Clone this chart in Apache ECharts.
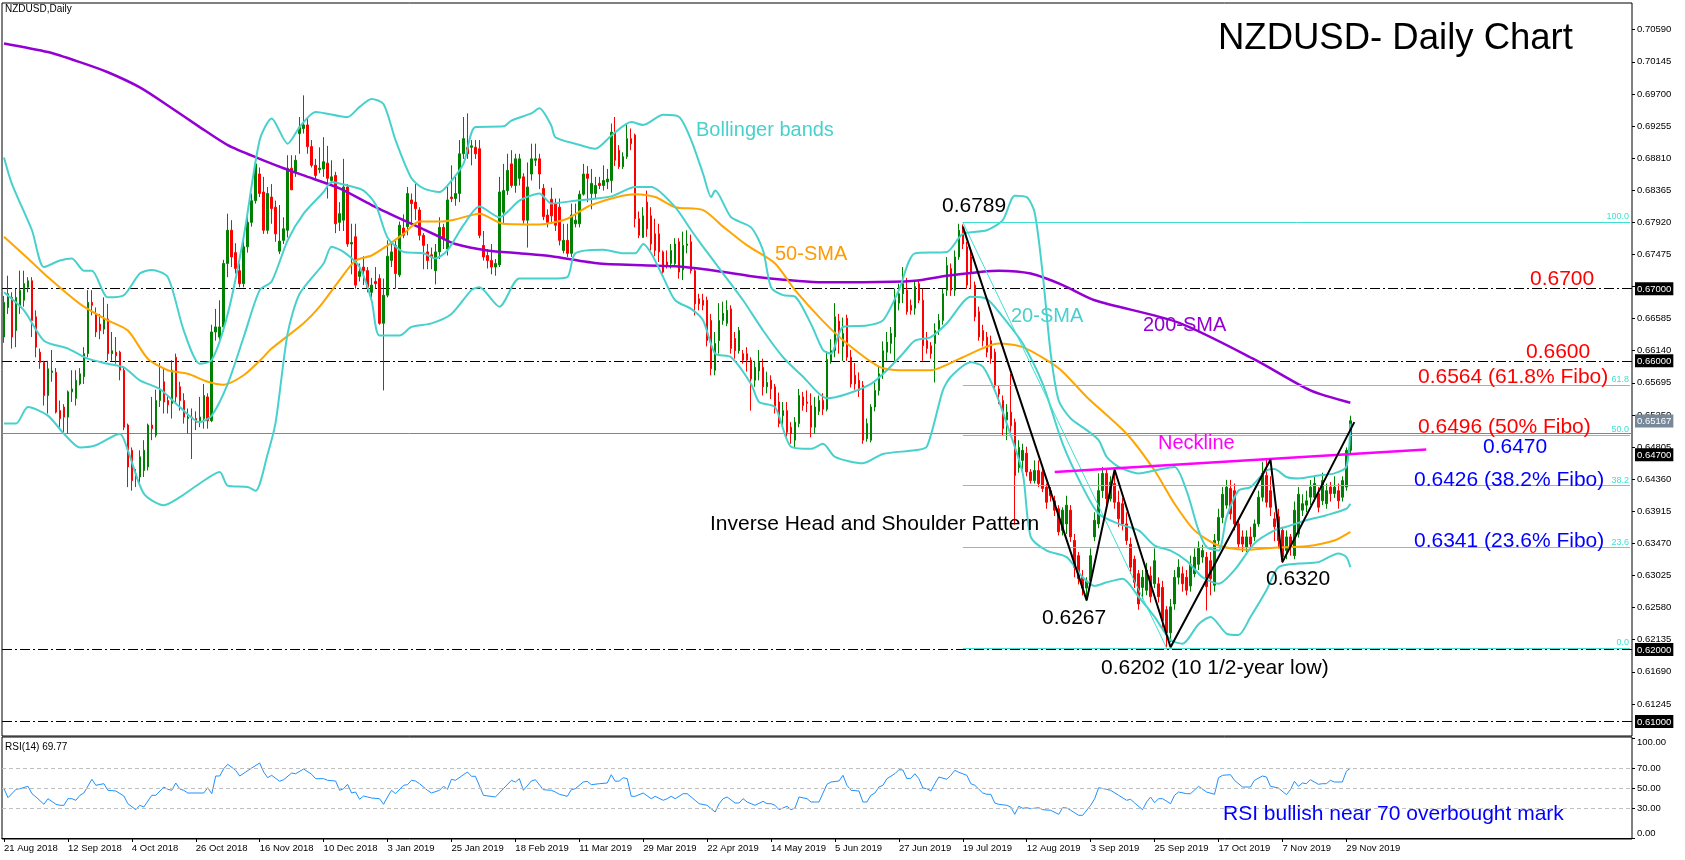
<!DOCTYPE html>
<html>
<head>
<meta charset="utf-8">
<script src="https://cdn.jsdelivr.net/npm/echarts/dist/echarts.min.js"></script>
<style>
html,body{margin:0;padding:0;background:#fff;}
#chart{width:1685px;height:860px;}
</style>
</head>
<body>
<div id="chart"></div>
<script>
// ---------- DATA ----------
const tickLabels = ['21 Aug 2018','12 Sep 2018','4 Oct 2018','26 Oct 2018','16 Nov 2018','10 Dec 2018','3 Jan 2019','25 Jan 2019','18 Feb 2019','11 Mar 2019','29 Mar 2019','22 Apr 2019','14 May 2019','5 Jun 2019','27 Jun 2019','19 Jul 2019','12 Aug 2019','3 Sep 2019','25 Sep 2019','17 Oct 2019','7 Nov 2019','29 Nov 2019'];
const barsPerTick = 16;
const slotCount = 408;

// daily candles [open, close, low, high]
const ohlc = [
[0.6633,0.6681,0.6625,0.6690],[0.6674,0.6693,0.6665,0.6718],[0.6688,0.6633,0.6617,0.6695],[0.6642,0.6688,0.6619,0.6700],[0.6674,0.6698,0.6665,0.6725],
[0.6684,0.6707,0.6675,0.6725],[0.6702,0.6711,0.6695,0.6716],[0.6711,0.6656,0.6633,0.6716],[0.6661,0.6619,0.6605,0.6670],[0.6612,0.6598,0.6589,0.6617],
[0.6598,0.6552,0.6538,0.6600],[0.6552,0.6589,0.6527,0.6600],[0.6584,0.6586,0.6571,0.6615],[0.6584,0.6529,0.6527,0.6590],[0.6531,0.6520,0.6508,0.6545],
[0.6536,0.6522,0.6499,0.6540],[0.6522,0.6557,0.6499,0.6559],[0.6557,0.6561,0.6543,0.6587],[0.6548,0.6573,0.6538,0.6587],[0.6568,0.6582,0.6566,0.6590],
[0.6578,0.6610,0.6568,0.6619],[0.6610,0.6681,0.6605,0.6698],[0.6681,0.6677,0.6663,0.6698],[0.6665,0.6640,0.6633,0.6674],[0.6651,0.6642,0.6630,0.6665],
[0.6644,0.6658,0.6637,0.6688],[0.6658,0.6610,0.6600,0.6679],[0.6610,0.6614,0.6600,0.6640],[0.6612,0.6607,0.6596,0.6633],[0.6612,0.6587,0.6573,0.6614],
[0.6587,0.6508,0.6504,0.6592],[0.6511,0.6453,0.6425,0.6513],[0.6476,0.6434,0.6420,0.6480],[0.6443,0.6437,0.6425,0.6450],[0.6439,0.6467,0.6429,0.6476],
[0.6448,0.6476,0.6439,0.6490],[0.6453,0.6511,0.6448,0.6513],[0.6511,0.6506,0.6490,0.6550],[0.6497,0.6545,0.6494,0.6560],[0.6545,0.6559,0.6536,0.6597],
[0.6571,0.6543,0.6527,0.6590],[0.6545,0.6539,0.6527,0.6552],[0.6541,0.6587,0.6520,0.6601],[0.6605,0.6550,0.6543,0.6610],[0.6564,0.6545,0.6531,0.6571],
[0.6545,0.6522,0.6513,0.6555],[0.6520,0.6522,0.6499,0.6534],[0.6522,0.6520,0.6464,0.6534],[0.6520,0.6515,0.6504,0.6530],[0.6517,0.6522,0.6508,0.6550],
[0.6520,0.6552,0.6506,0.6568],[0.6550,0.6517,0.6506,0.6555],[0.6517,0.6640,0.6515,0.6650],[0.6640,0.6647,0.6628,0.6672],[0.6633,0.6647,0.6626,0.6684],
[0.6647,0.6735,0.6640,0.6740],[0.6735,0.6781,0.6716,0.6804],[0.6781,0.6744,0.6730,0.6795],[0.6750,0.6728,0.6721,0.6763],[0.6725,0.6707,0.6702,0.6735],
[0.6707,0.6758,0.6702,0.6772],[0.6758,0.6792,0.6750,0.6804],[0.6792,0.6822,0.6786,0.6832],[0.6822,0.6873,0.6818,0.6880],[0.6859,0.6832,0.6827,0.6868],
[0.6834,0.6781,0.6776,0.6855],[0.6781,0.6832,0.6776,0.6841],[0.6827,0.6811,0.6790,0.6845],[0.6813,0.6776,0.6765,0.6822],[0.6752,0.6766,0.6748,0.6816],
[0.6767,0.6783,0.6762,0.6799],[0.6781,0.6867,0.6771,0.6885],[0.6867,0.6837,0.6837,0.6885],[0.6862,0.6878,0.6855,0.6885],[0.6915,0.6924,0.6887,0.6938],
[0.6922,0.6927,0.6915,0.6968],[0.6927,0.6897,0.6887,0.6938],[0.6897,0.6871,0.6868,0.6906],[0.6871,0.6857,0.6850,0.6880],[0.6865,0.6867,0.6860,0.6896],
[0.6866,0.6876,0.6855,0.6910],[0.6874,0.6853,0.6825,0.6898],[0.6850,0.6855,0.6846,0.6878],[0.6857,0.6790,0.6777,0.6862],[0.6792,0.6804,0.6780,0.6820],
[0.6795,0.6841,0.6780,0.6880],[0.6841,0.6762,0.6758,0.6845],[0.6762,0.6764,0.6720,0.6790],[0.6772,0.6705,0.6700,0.6790],[0.6717,0.6724,0.6710,0.6735],
[0.6730,0.6725,0.6705,0.6745],[0.6725,0.6702,0.6695,0.6730],[0.6695,0.6705,0.6688,0.6715],[0.6710,0.6707,0.6700,0.6730],[0.6714,0.6652,0.6650,0.6720],
[0.6652,0.6691,0.6559,0.6714],[0.6691,0.6745,0.6688,0.6767],[0.6739,0.6751,0.6730,0.6762],[0.6760,0.6721,0.6700,0.6766],[0.6719,0.6788,0.6716,0.6793],
[0.6784,0.6774,0.6770,0.6803],[0.6786,0.6832,0.6774,0.6841],[0.6823,0.6818,0.6790,0.6832],[0.6820,0.6811,0.6795,0.6845],[0.6809,0.6774,0.6767,0.6813],
[0.6774,0.6760,0.6727,0.6777],[0.6751,0.6739,0.6727,0.6762],[0.6747,0.6744,0.6727,0.6757],[0.6725,0.6751,0.6706,0.6762],[0.6751,0.6785,0.6741,0.6799],
[0.6785,0.6769,0.6755,0.6790],[0.6755,0.6823,0.6746,0.6841],[0.6827,0.6825,0.6820,0.6871],[0.6825,0.6832,0.6815,0.6855],[0.6832,0.6887,0.6820,0.6906],
[0.6887,0.6908,0.6880,0.6938],[0.6896,0.6887,0.6880,0.6943],[0.6896,0.6898,0.6871,0.6906],[0.6896,0.6887,0.6880,0.6906],[0.6894,0.6774,0.6770,0.6906],
[0.6760,0.6744,0.6739,0.6780],[0.6746,0.6739,0.6728,0.6755],[0.6739,0.6730,0.6720,0.6762],[0.6730,0.6735,0.6718,0.6741],[0.6733,0.6834,0.6730,0.6855],
[0.6806,0.6836,0.6790,0.6873],[0.6836,0.6864,0.6830,0.6887],[0.6873,0.6843,0.6840,0.6892],[0.6843,0.6880,0.6833,0.6887],[0.6853,0.6880,0.6843,0.6887],
[0.6855,0.6795,0.6790,0.6860],[0.6795,0.6841,0.6757,0.6875],[0.6859,0.6880,0.6850,0.6901],[0.6878,0.6880,0.6870,0.6901],[0.6880,0.6859,0.6838,0.6887],
[0.6839,0.6800,0.6795,0.6845],[0.6802,0.6792,0.6785,0.6810],[0.6824,0.6801,0.6790,0.6840],[0.6818,0.6788,0.6780,0.6825],[0.6813,0.6767,0.6760,0.6825],
[0.6753,0.6767,0.6749,0.6790],[0.6767,0.6749,0.6744,0.6790],[0.6749,0.6802,0.6744,0.6818],[0.6790,0.6795,0.6785,0.6818],[0.6790,0.6831,0.6785,0.6836],
[0.6831,0.6859,0.6829,0.6873],[0.6859,0.6853,0.6820,0.6870],[0.6832,0.6846,0.6810,0.6866],[0.6832,0.6843,0.6825,0.6855],[0.6846,0.6843,0.6838,0.6855],
[0.6843,0.6850,0.6836,0.6871],[0.6848,0.6852,0.6838,0.6866],[0.6850,0.6917,0.6833,0.6929],[0.6917,0.6878,0.6870,0.6938],[0.6892,0.6869,0.6866,0.6899],
[0.6869,0.6883,0.6866,0.6889],[0.6883,0.6908,0.6880,0.6929],[0.6908,0.6901,0.6892,0.6922],[0.6913,0.6797,0.6785,0.6915],[0.6797,0.6774,0.6770,0.6807],
[0.6771,0.6801,0.6771,0.6813],[0.6820,0.6783,0.6772,0.6836],[0.6801,0.6762,0.6753,0.6813],[0.6776,0.6753,0.6745,0.6797],[0.6776,0.6751,0.6737,0.6790],
[0.6751,0.6723,0.6721,0.6753],[0.6737,0.6733,0.6728,0.6753],[0.6735,0.6753,0.6728,0.6762],[0.6735,0.6762,0.6733,0.6770],[0.6765,0.6723,0.6714,0.6770],
[0.6726,0.6760,0.6712,0.6779],[0.6760,0.6762,0.6749,0.6781],[0.6765,0.6725,0.6721,0.6775],[0.6725,0.6679,0.6663,0.6728],[0.6686,0.6679,0.6670,0.6693],
[0.6684,0.6677,0.6670,0.6693],[0.6684,0.6628,0.6620,0.6689],[0.6656,0.6589,0.6580,0.6665],[0.6587,0.6624,0.6580,0.6640],[0.6628,0.6656,0.6610,0.6680],
[0.6656,0.6666,0.6650,0.6682],[0.6652,0.6670,0.6648,0.6684],[0.6672,0.6617,0.6610,0.6677],[0.6631,0.6614,0.6603,0.6640],[0.6614,0.6642,0.6610,0.6647],
[0.6610,0.6601,0.6596,0.6615],[0.6610,0.6601,0.6585,0.6619],[0.6601,0.6575,0.6531,0.6605],[0.6573,0.6591,0.6564,0.6600],[0.6586,0.6598,0.6573,0.6615],
[0.6591,0.6564,0.6552,0.6603],[0.6564,0.6570,0.6555,0.6585],[0.6573,0.6561,0.6547,0.6580],[0.6564,0.6534,0.6527,0.6568],[0.6543,0.6513,0.6508,0.6556],
[0.6524,0.6531,0.6510,0.6543],[0.6531,0.6501,0.6494,0.6543],[0.6508,0.6499,0.6485,0.6515],[0.6490,0.6515,0.6480,0.6522],[0.6513,0.6552,0.6508,0.6561],
[0.6550,0.6538,0.6531,0.6557],[0.6543,0.6541,0.6529,0.6559],[0.6538,0.6508,0.6494,0.6555],[0.6508,0.6536,0.6499,0.6550],[0.6530,0.6545,0.6525,0.6552],
[0.6545,0.6533,0.6525,0.6555],[0.6533,0.6602,0.6530,0.6613],[0.6600,0.6614,0.6596,0.6630],[0.6614,0.6661,0.6605,0.6680],[0.6655,0.6638,0.6610,0.6665],
[0.6620,0.6638,0.6600,0.6660],[0.6659,0.6605,0.6600,0.6664],[0.6605,0.6568,0.6563,0.6615],[0.6580,0.6568,0.6560,0.6597],[0.6573,0.6559,0.6550,0.6584],
[0.6566,0.6490,0.6485,0.6572],[0.6492,0.6513,0.6488,0.6520],[0.6490,0.6536,0.6487,0.6540],[0.6536,0.6559,0.6530,0.6570],[0.6559,0.6582,0.6552,0.6592],
[0.6582,0.6614,0.6575,0.6627],[0.6612,0.6626,0.6600,0.6640],[0.6624,0.6638,0.6610,0.6647],[0.6633,0.6689,0.6600,0.6700],[0.6680,0.6693,0.6670,0.6707],
[0.6693,0.6707,0.6680,0.6730],[0.6698,0.6668,0.6664,0.6715],[0.6677,0.6670,0.6664,0.6685],[0.6673,0.6703,0.6664,0.6710],[0.6707,0.6684,0.6680,0.6712],
[0.6684,0.6621,0.6600,0.6700],[0.6628,0.6617,0.6610,0.6640],[0.6621,0.6610,0.6603,0.6626],[0.6624,0.6642,0.6570,0.6652],[0.6642,0.6656,0.6636,0.6665],
[0.6656,0.6693,0.6650,0.6700],[0.6698,0.6732,0.6690,0.6744],[0.6728,0.6698,0.6690,0.6735],[0.6698,0.6744,0.6690,0.6753],[0.6744,0.6781,0.6740,0.6790],
[0.6783,0.6762,0.6755,0.6789],[0.6758,0.6705,0.6700,0.6765],[0.6744,0.6723,0.6700,0.6755],[0.6705,0.6661,0.6655,0.6710],[0.6668,0.6633,0.6628,0.6675],
[0.6642,0.6628,0.6620,0.6650],[0.6633,0.6612,0.6605,0.6640],[0.6628,0.6603,0.6596,0.6635],[0.6612,0.6566,0.6560,0.6617],[0.6561,0.6554,0.6540,0.6566],
[0.6545,0.6506,0.6497,0.6552],[0.6518,0.6529,0.6490,0.6540],[0.6529,0.6510,0.6500,0.6582],[0.6515,0.6441,0.6373,0.6520],[0.6452,0.6480,0.6445,0.6490],
[0.6462,0.6476,0.6450,0.6485],[0.6472,0.6446,0.6440,0.6481],[0.6446,0.6434,0.6430,0.6450],[0.6434,0.6448,0.6430,0.6462],[0.6448,0.6430,0.6425,0.6462],
[0.6446,0.6423,0.6418,0.6450],[0.6425,0.6404,0.6395,0.6430],[0.6420,0.6413,0.6405,0.6425],[0.6406,0.6393,0.6385,0.6413],[0.6395,0.6363,0.6358,0.6400],
[0.6365,0.6393,0.6358,0.6397],[0.6374,0.6400,0.6360,0.6413],[0.6393,0.6356,0.6349,0.6400],[0.6351,0.6314,0.6300,0.6360],[0.6330,0.6298,0.6290,0.6335],
[0.6300,0.6285,0.6275,0.6310],[0.6285,0.6295,0.6267,0.6300],[0.6295,0.6330,0.6290,0.6340],[0.6356,0.6379,0.6350,0.6390],[0.6374,0.6420,0.6368,0.6444],
[0.6420,0.6444,0.6410,0.6453],[0.6444,0.6409,0.6400,0.6450],[0.6409,0.6432,0.6405,0.6440],[0.6430,0.6404,0.6395,0.6448],[0.6404,0.6381,0.6370,0.6420],
[0.6402,0.6374,0.6365,0.6410],[0.6374,0.6351,0.6345,0.6390],[0.6346,0.6314,0.6305,0.6355],[0.6325,0.6293,0.6285,0.6330],[0.6305,0.6263,0.6255,0.6310],
[0.6286,0.6300,0.6270,0.6310],[0.6282,0.6310,0.6275,0.6320],[0.6302,0.6273,0.6265,0.6315],[0.6291,0.6323,0.6285,0.6340],[0.6291,0.6273,0.6265,0.6300],
[0.6286,0.6240,0.6230,0.6295],[0.6255,0.6223,0.6203,0.6260],[0.6223,0.6259,0.6210,0.6270],[0.6263,0.6300,0.6255,0.6310],[0.6300,0.6314,0.6290,0.6325],
[0.6305,0.6291,0.6280,0.6315],[0.6300,0.6282,0.6275,0.6310],[0.6288,0.6318,0.6280,0.6330],[0.6305,0.6328,0.6300,0.6340],[0.6318,0.6340,0.6310,0.6350],
[0.6328,0.6337,0.6320,0.6345],[0.6328,0.6287,0.6254,0.6335],[0.6323,0.6298,0.6275,0.6335],[0.6289,0.6351,0.6280,0.6360],[0.6351,0.6383,0.6345,0.6395],
[0.6383,0.6415,0.6375,0.6425],[0.6400,0.6425,0.6395,0.6435],[0.6423,0.6388,0.6380,0.6435],[0.6420,0.6374,0.6365,0.6430],[0.6374,0.6346,0.6340,0.6380],
[0.6356,0.6346,0.6335,0.6365],[0.6342,0.6356,0.6335,0.6365],[0.6356,0.6346,0.6340,0.6370],[0.6356,0.6374,0.6350,0.6380],[0.6374,0.6411,0.6370,0.6420],
[0.6411,0.6444,0.6405,0.6460],[0.6441,0.6404,0.6397,0.6463],[0.6420,0.6397,0.6385,0.6440],[0.6381,0.6370,0.6350,0.6390],[0.6384,0.6351,0.6340,0.6395],
[0.6365,0.6328,0.6320,0.6370],[0.6337,0.6356,0.6325,0.6365],[0.6356,0.6342,0.6330,0.6360],[0.6330,0.6393,0.6325,0.6405],[0.6360,0.6415,0.6355,0.6425],
[0.6393,0.6402,0.6385,0.6415],[0.6400,0.6406,0.6390,0.6420],[0.6411,0.6425,0.6400,0.6435],[0.6411,0.6430,0.6405,0.6440],[0.6416,0.6397,0.6390,0.6425],
[0.6406,0.6434,0.6400,0.6445],[0.6402,0.6420,0.6395,0.6430],[0.6425,0.6416,0.6405,0.6432],[0.6416,0.6425,0.6410,0.6440],[0.6420,0.6406,0.6395,0.6430],
[0.6411,0.6434,0.6405,0.6440],[0.6425,0.6476,0.6420,0.6480],[0.6476,0.6517,0.6470,0.6524]
];

// indicator lines: [bar index, value]
const sma200 = [[0,0.7040],[11,0.7028],[19,0.7014],[26,0.7000],[34,0.6979],[41,0.6954],[49,0.6924],[56,0.6899],[64,0.6880],[70,0.6867],[75,0.6857],[84,0.6839],[92,0.6816],[100,0.6795],[109,0.6772],[113,0.6762],[121,0.6753],[129,0.6749],[137,0.6745],[149,0.6735],[168,0.6731],[178,0.6725],[189,0.6716],[205,0.6709],[215,0.6709],[228,0.6711],[236,0.6718],[249,0.6725],[257,0.6721],[265,0.6705],[273,0.6684],[294,0.6653],[313,0.6602],[327,0.6559],[337,0.6542]];
const sma50 = [[0,0.6772],[6,0.6742],[11,0.6716],[19,0.6679],[26,0.6656],[31,0.6642],[36,0.6603],[41,0.6587],[46,0.6582],[51,0.6571],[55,0.6567],[60,0.6580],[64,0.6600],[67,0.6617],[75,0.6652],[79,0.6675],[84,0.6712],[88,0.6739],[92,0.6746],[96,0.6760],[100,0.6776],[104,0.6793],[109,0.6793],[113,0.6796],[119,0.6804],[125,0.6790],[134,0.6789],[141,0.6797],[147,0.6816],[158,0.6831],[163,0.6827],[168,0.6813],[175,0.6809],[180,0.6786],[186,0.6760],[193,0.6735],[198,0.6698],[205,0.6655],[211,0.6624],[219,0.6592],[224,0.6587],[232,0.6587],[240,0.6605],[249,0.6624],[255,0.6619],[261,0.6601],[265,0.6585],[271,0.6550],[281,0.6499],[288,0.6448],[293,0.6402],[298,0.6365],[304,0.6344],[311,0.6338],[318,0.6341],[326,0.6343],[333,0.6351],[337,0.6363]];
const bbUpper = [[0,0.6882],[2,0.6845],[7,0.6781],[10,0.6730],[14,0.6739],[17,0.6742],[20,0.6725],[22,0.6725],[26,0.6688],[30,0.6691],[34,0.6721],[37,0.6726],[41,0.6716],[45,0.6642],[49,0.6596],[52,0.6601],[56,0.6665],[60,0.6772],[64,0.6906],[67,0.6936],[71,0.6901],[74,0.6924],[78,0.6945],[86,0.6938],[89,0.6952],[92,0.6963],[95,0.6956],[98,0.6906],[102,0.6853],[105,0.6839],[109,0.6834],[111,0.6843],[115,0.6873],[118,0.6924],[125,0.6925],[127,0.6933],[132,0.6943],[134,0.6950],[137,0.6926],[138,0.6910],[143,0.6901],[148,0.6894],[152,0.6912],[157,0.6931],[160,0.6927],[165,0.6941],[169,0.6938],[172,0.6906],[175,0.6859],[177,0.6827],[178,0.6836],[182,0.6799],[187,0.6785],[190,0.6753],[192,0.6702],[195,0.6691],[198,0.6689],[202,0.6651],[205,0.6615],[207,0.6610],[210,0.6647],[216,0.6649],[220,0.6656],[224,0.6698],[228,0.6749],[236,0.6751],[240,0.6776],[246,0.6781],[250,0.6795],[253,0.6829],[256,0.6827],[258,0.6805],[260,0.6720],[262,0.6610],[264,0.6545],[267,0.6520],[271,0.6504],[274,0.6490],[276,0.6467],[279,0.6453],[284,0.6444],[288,0.6448],[293,0.6453],[296,0.6420],[299,0.6365],[301,0.6342],[304,0.6337],[306,0.6383],[309,0.6420],[312,0.6425],[316,0.6448],[318,0.6450],[321,0.6439],[324,0.6437],[329,0.6441],[333,0.6444],[336,0.6453],[337,0.6513]];
const bbMiddle = [[0,0.6695],[5,0.6670],[10,0.6628],[16,0.6617],[21,0.6603],[26,0.6596],[30,0.6591],[34,0.6573],[39,0.6561],[44,0.6536],[49,0.6515],[52,0.6524],[56,0.6568],[60,0.6633],[64,0.6698],[67,0.6710],[71,0.6767],[75,0.6804],[80,0.6834],[82,0.6848],[86,0.6843],[90,0.6836],[93,0.6817],[96,0.6771],[100,0.6751],[105,0.6749],[108,0.6742],[111,0.6753],[115,0.6788],[119,0.6814],[124,0.6799],[129,0.6822],[134,0.6832],[137,0.6818],[143,0.6822],[152,0.6828],[158,0.6841],[162,0.6841],[168,0.6813],[172,0.6781],[175,0.6758],[180,0.6721],[185,0.6684],[190,0.6642],[195,0.6605],[200,0.6578],[206,0.6548],[211,0.6554],[217,0.6568],[221,0.6587],[225,0.6610],[228,0.6628],[232,0.6633],[236,0.6652],[242,0.6689],[246,0.6686],[250,0.6661],[255,0.6624],[260,0.6568],[265,0.6485],[270,0.6425],[274,0.6388],[279,0.6374],[284,0.6365],[288,0.6344],[292,0.6337],[296,0.6323],[300,0.6300],[304,0.6291],[308,0.6310],[313,0.6347],[318,0.6365],[321,0.6370],[326,0.6379],[331,0.6386],[336,0.6395],[337,0.6402]];
const bbLower = [[0,0.6513],[3,0.6513],[6,0.6536],[11,0.6524],[15,0.6499],[19,0.6480],[23,0.6483],[29,0.6499],[31,0.6476],[35,0.6416],[40,0.6400],[44,0.6411],[49,0.6430],[54,0.6446],[56,0.6427],[61,0.6425],[63,0.6420],[66,0.6471],[68,0.6515],[71,0.6638],[74,0.6693],[80,0.6735],[82,0.6758],[85,0.6751],[89,0.6730],[92,0.6684],[94,0.6635],[99,0.6635],[102,0.6647],[107,0.6652],[112,0.6665],[117,0.6698],[119,0.6702],[124,0.6675],[129,0.6714],[137,0.6714],[141,0.6716],[143,0.6749],[150,0.6754],[155,0.6749],[158,0.6749],[160,0.6762],[162,0.6749],[165,0.6716],[168,0.6684],[172,0.6672],[175,0.6656],[178,0.6610],[182,0.6605],[187,0.6568],[189,0.6543],[193,0.6536],[197,0.6481],[202,0.6478],[205,0.6485],[208,0.6467],[215,0.6458],[220,0.6471],[228,0.6476],[231,0.6481],[235,0.6559],[237,0.6578],[242,0.6598],[245,0.6592],[248,0.6559],[251,0.6513],[255,0.6444],[257,0.6356],[261,0.6337],[266,0.6328],[270,0.6300],[273,0.6288],[276,0.6293],[280,0.6298],[284,0.6273],[288,0.6245],[292,0.6213],[295,0.6208],[299,0.6235],[302,0.6245],[306,0.6222],[309,0.6220],[312,0.6245],[316,0.6282],[319,0.6314],[324,0.6319],[329,0.6321],[334,0.6333],[336,0.6328],[337,0.6314]];
const rsi14 = [[0,49.3],[1,40.3],[3,48.7],[4,49.3],[6,51.7],[7,44.3],[8,41],[10,33.7],[11,39.3],[13,33.7],[14,32.7],[15,32.7],[16,39.3],[17,39.3],[18,37.7],[19,42.7],[20,45],[22,58.7],[23,52.7],[25,54.3],[26,47.7],[28,47],[30,42],[31,34.3],[33,28.3],[34,32.7],[35,31],[37,42.7],[38,42.7],[40,51],[41,48.7],[42,47.7],[43,55],[44,49],[45,47.7],[46,45],[50,45],[51,50.3],[52,44.3],[53,62],[54,62],[55,69.3],[56,73.7],[58,67.7],[59,62],[62,70],[64,75],[65,66],[66,60.3],[67,62.7],[69,56.7],[70,58.3],[72,65],[73,64.3],[75,69],[77,63.7],[78,59.3],[80,59.3],[81,57.7],[83,57],[84,47.7],[85,49.3],[86,53.7],[87,45],[88,46],[89,38.7],[90,42],[91,41],[92,40],[94,39.3],[95,33.7],[96,41],[97,47.7],[98,44.3],[100,52.7],[101,53.3],[102,57.7],[103,57],[104,54.3],[106,47.7],[107,45],[109,47.7],[110,51.7],[111,48.7],[112,58.7],[113,57.7],[116,66],[117,61.7],[118,61.7],[120,42.7],[123,41],[125,49.3],[127,57.7],[128,56],[129,59.3],[130,47.7],[132,57],[133,58.3],[135,48.3],[137,47.7],[138,46],[139,43.7],[141,41.7],[142,48.3],[143,49.3],[145,56],[146,56.7],[147,53.3],[149,54.3],[151,55],[152,63.3],[153,56.7],[154,57],[155,60.3],[156,59.3],[157,41.7],[158,41.7],[160,45],[162,39.3],[163,41.7],[165,37.7],[166,39.3],[167,41.7],[168,39.3],[170,44.3],[171,44.3],[173,37.7],[174,34.3],[176,32.7],[178,26],[179,34.3],[180,39.3],[181,41],[183,35],[184,35],[185,39.3],[186,36],[187,34.3],[188,32.7],[190,36.7],[191,34.3],[192,34.3],[193,32.7],[194,28.3],[196,31.7],[197,28.3],[198,30],[199,41],[201,39.3],[202,36],[204,36],[206,53.7],[207,56],[209,57],[210,62.7],[211,52.7],[212,47.7],[214,47],[215,36],[216,36],[217,42.7],[218,45],[219,51],[220,52.7],[221,59.3],[223,64.3],[224,68.3],[225,68],[226,59.3],[227,59.7],[228,64.3],[229,59.3],[230,50],[231,49.3],[232,47],[233,54.3],[234,61],[236,58.7],[237,62.7],[238,67.7],[239,65.7],[241,62.7],[242,54.3],[243,52.7],[245,45],[246,43.7],[247,43.7],[248,35],[249,33.7],[251,32.7],[252,31],[253,23.7],[254,31.7],[255,29.7],[256,30.3],[257,29.3],[259,30.3],[260,28.3],[262,27.7],[264,23.7],[265,30.3],[266,30],[267,27.7],[269,22.7],[270,22.7],[272,32.7],[273,39.3],[274,50.3],[276,48.7],[277,47.7],[279,42.7],[281,37.7],[282,38.7],[283,35],[285,28.3],[286,36],[287,41],[288,35.3],[289,39.3],[290,39.3],[292,34.3],[293,42.7],[294,46],[296,44.3],[297,44.3],[299,51.7],[301,46],[303,43.7],[304,60.3],[305,62.7],[307,63.3],[308,57.7],[310,51],[312,51],[313,57.7],[315,62],[316,61],[317,51.7],[319,50],[321,43.3],[322,48.3],[323,56.7],[324,51.7],[325,55],[326,54.3],[327,58.3],[329,53.7],[330,54.3],[331,54.3],[332,57.7],[333,56],[335,56],[336,66.7],[337,69.77]];

// drawn objects
const levelLines = [0.6700, 0.6600, 0.6470, 0.6200, 0.6100];
const lastPrice = 0.65167;
const fiboNames = ['100.0','61.8','50.0','38.2','23.6','0.0'];
const fiboPrices = [0.6792, 0.6566, 0.6497, 0.6427, 0.6341, 0.6202];
const fiboStartBar = 240;
const fiboDiagonal = [[240,0.6792],[291,0.6202]];
const patternLine = [[240,0.6786],[271,0.6268],[278,0.6449],[292,0.6203],[317,0.6463],[320,0.6321],[338,0.6515]];
const neckline = [[263,0.6446],[356,0.6477]];
const priceTicks = {min:0.608, max:0.7096, step:0.00445};
const rsiTicks = [0,30,50,70,100];
const rsiLevels = [70,50,30];

// ---------- CHART ----------
const FONT = '"Liberation Sans", Arial, sans-serif';
const categories = [];
for (let i = 0; i < slotCount; i++) {
  const t = i / barsPerTick;
  categories.push(Number.isInteger(t) && t < tickLabels.length ? tickLabels[t] : String(i));
}
const isTick = (i) => i % barsPerTick === 0 && i / barsPerTick < tickLabels.length;

// horizontal lines (no labels; boxes are drawn on a helper axis)
const levelMarks = levelLines.map(v => ({yAxis: v, lineStyle: {color:'#000', width:1, type:[10,3,2,3]}}));
levelMarks.push({yAxis: lastPrice, lineStyle: {color:'#778899', width:1, type:'solid'}});
const fiboMarks = fiboPrices.map((p, k) => [
  {coord:[fiboStartBar, p], lineStyle:{color:'#40e0d0', width:1, type:'solid'},
   label:{show:true, position:'insideEndTop', distance:1, formatter: fiboNames[k], color:'#40e0d0', fontSize:9, fontFamily:FONT}},
  {coord:[slotCount - 1, p]}
]);
const boxValues = levelLines.concat([lastPrice]);
const isLast = (v) => Math.abs(v - lastPrice) < 1e-7;

const texts = [
  ['NZDUSD,Daily', 5, 9, 10, '#000'],
  ['NZDUSD- Daily Chart', 1218, 39, 36.5, '#000'],
  ['Bollinger bands', 696, 130, 20, '#48d1cc'],
  ['50-SMA', 775, 254, 20, '#ff9a00'],
  ['0.6789', 942, 206, 21, '#000'],
  ['20-SMA', 1011, 316, 20, '#48d1cc'],
  ['200-SMA', 1143, 325, 20, '#9400d3'],
  ['0.6700', 1530, 279, 21, '#ff0000'],
  ['0.6600', 1526, 352, 21, '#ff0000'],
  ['0.6564 (61.8% Fibo)', 1418, 377, 21, '#ff0000'],
  ['0.6496 (50% Fibo)', 1418, 427, 21, '#ff0000'],
  ['Neckline', 1158, 443, 20, '#ff00ff'],
  ['0.6470', 1483, 447, 21, '#0000ff'],
  ['0.6426 (38.2% Fibo)', 1414, 480, 21, '#0000ff'],
  ['0.6341 (23.6% Fibo)', 1414, 541, 21, '#0000ff'],
  ['Inverse Head and Shoulder Pattern', 710, 524, 21, '#000'],
  ['0.6320', 1266, 579, 21, '#000'],
  ['0.6267', 1042, 618, 21, '#000'],
  ['0.6202 (10 1/2-year low)', 1101, 668, 21, '#000'],
  ['RSI bullish near 70 overbought mark', 1223, 814, 21, '#0000ff'],
  ['RSI(14) 69.77', 5, 747, 10, '#000']
];

const lineSeries = (data, color, width, z) => ({
  type:'line', xAxisIndex:0, yAxisIndex:0, data, showSymbol:false, symbol:'none',
  smooth:0.25, lineStyle:{color, width}, z, silent:true
});

const chart = echarts.init(document.getElementById('chart'), null, {renderer:'canvas'});
chart.setOption({
  animation:false,
  backgroundColor:'#fff',
  grid:[
    {left:2, right:53, top:3, height:733, show:true, borderColor:'#000', borderWidth:1, backgroundColor:'transparent'},
    {left:2, right:53, top:737, height:102, show:true, borderColor:'#000', borderWidth:1, backgroundColor:'transparent'}
  ],
  xAxis:[
    {type:'category', gridIndex:0, data:categories, boundaryGap:true, show:false},
    {type:'category', gridIndex:1, data:categories, boundaryGap:true,
     axisLine:{show:true, lineStyle:{color:'#000'}},
     axisTick:{show:true, alignWithLabel:true, interval:(i)=>isTick(i), length:4, lineStyle:{color:'#000'}},
     axisLabel:{interval:(i)=>isTick(i), formatter:(v)=>v, align:'left', margin:4, color:'#000', fontSize:9.5, fontFamily:FONT}}
  ],
  yAxis:[
    {type:'value', gridIndex:0, position:'right', min:priceTicks.min, max:priceTicks.max, interval:priceTicks.step, z:1,
     axisLine:{show:false}, splitLine:{show:false},
     axisTick:{show:true, length:3, lineStyle:{color:'#000'}},
     axisLabel:{showMinLabel:false, showMaxLabel:false, formatter:(v)=>v.toFixed(5), color:'#000', fontSize:9.5, fontFamily:FONT, margin:5}},
    {type:'value', gridIndex:1, position:'right', min:-1, max:101,
     axisLine:{show:false}, splitLine:{show:false},
     axisTick:{show:true, customValues:rsiTicks, length:3, lineStyle:{color:'#000'}},
     axisLabel:{customValues:rsiTicks, margin:5, color:'#000', fontSize:9.5, fontFamily:FONT,
       formatter:(v)=> v===100 ? '{dn|100.00}' : (v===0 ? '{up|0.00}' : v.toFixed(2)),
       rich:{dn:{padding:[8,0,0,0], fontSize:9.5, fontFamily:FONT, color:'#000'},
             up:{padding:[0,0,10,0], fontSize:9.5, fontFamily:FONT, color:'#000'}}}},
    {type:'value', gridIndex:0, position:'right', min:priceTicks.min, max:priceTicks.max, z:10,
     axisLine:{show:false}, splitLine:{show:false}, axisTick:{show:false},
     axisLabel:{customValues:boxValues, margin:3, fontSize:9.5, fontFamily:FONT,
       formatter:(v)=> isLast(v) ? '{g|'+v.toFixed(5)+'}' : '{b|'+v.toFixed(5)+'}',
       rich:{b:{backgroundColor:'#000', color:'#fff', padding:[2,2,1,2], fontSize:9.5, fontFamily:FONT},
             g:{backgroundColor:'#778899', color:'#fff', padding:[2,2,1,2], fontSize:9.5, fontFamily:FONT}}}}
  ],
  series:[
    {type:'candlestick', xAxisIndex:0, yAxisIndex:0, data:ohlc, barWidth:2, z:3,
     itemStyle:{color:'#008000', color0:'#ff0000', borderColor:'#008000', borderColor0:'#ff0000', borderWidth:1},
     markLine:{symbol:['none','none'], silent:true, animation:false, label:{show:false}, data:levelMarks, z:2}},
    lineSeries(sma200, '#9400d3', 2.5, 4),
    lineSeries(sma50, '#ffa500', 2, 4),
    lineSeries(bbUpper, '#48d1cc', 2, 4),
    lineSeries(bbMiddle, '#48d1cc', 2, 4),
    lineSeries(bbLower, '#48d1cc', 2, 4),
    {type:'line', xAxisIndex:0, yAxisIndex:0, data:fiboDiagonal, symbol:'none', lineStyle:{color:'#40e0d0', width:1}, z:5, silent:true,
     markLine:{symbol:['none','none'], silent:true, animation:false, data:fiboMarks}},
    {type:'line', xAxisIndex:0, yAxisIndex:0, data:neckline, symbol:'none', lineStyle:{color:'#ff00ff', width:2.5}, z:5, silent:true},
    {type:'line', xAxisIndex:0, yAxisIndex:0, data:patternLine, symbol:'none', lineStyle:{color:'#000', width:2}, z:6, silent:true},
    {type:'line', xAxisIndex:1, yAxisIndex:1, data:rsi14, symbol:'none', lineStyle:{color:'#1e90ff', width:1}, z:4, silent:true,
     markLine:{symbol:['none','none'], silent:true, label:{show:false},
       lineStyle:{color:'#c0c0c0', type:[4,3], width:1},
       data: rsiLevels.map(v=>({yAxis:v}))}}
  ],
  graphic: texts.map(t => ({
    type:'text', x:t[1], y:t[2], z:100, silent:true,
    style:{text:t[0], fill:t[4], fontSize:t[3], fontFamily:FONT, align:'left', verticalAlign:'middle'}
  }))
});
</script>
</body>
</html>
